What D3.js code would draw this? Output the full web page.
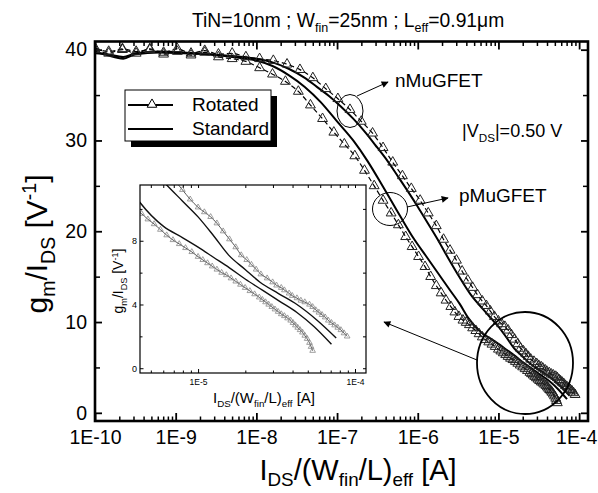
<!DOCTYPE html>
<html>
<head>
<meta charset="utf-8">
<title>gm/IDS vs IDS/(Wfin/L)eff</title>
<script src="https://cdn.jsdelivr.net/npm/d3@7"></script>
<style>
  body { margin: 0; background: #fff; }
  text { font-family: "Liberation Sans", Arial, sans-serif; fill: #000; }
</style>
</head>
<body>
<script>
// x values are log10 of IDS/(Wfin/L)eff [A], y values are gm/IDS [V^-1]
var nRotated = [[-10.00,40.0],[-9.83,39.6],[-9.66,40.1],[-9.49,39.8],[-9.32,40.0],[-9.15,39.7],[-8.98,40.1],[-8.81,39.6],[-8.64,39.9],[-8.47,39.5],[-8.30,39.6],[-8.13,39.2],[-7.96,39.0],[-7.79,38.8],[-7.62,38.4],[-7.46,37.8],[-7.30,36.9],[-7.14,35.7],[-6.99,34.6],[-6.84,33.4],[-6.70,32.1],[-6.56,30.8],[-6.43,29.2],[-6.31,27.6],[-6.19,26.1],[-6.08,24.7],[-5.97,23.4],[-5.87,22.0],[-5.77,20.6],[-5.68,19.1],[-5.60,17.9],[-5.52,16.8],[-5.45,15.6],[-5.38,14.6],[-5.32,13.8],[-5.26,13.0],[-5.20,12.3],[-5.15,11.8],[-5.10,11.2],[-5.05,10.6],[-5.00,10.1],[-4.96,9.8],[-4.92,9.5],[-4.88,9.1],[-4.84,8.6],[-4.80,8.1],[-4.76,7.6],[-4.725,7.1],[-4.69,6.8],[-4.66,6.5],[-4.63,6.2],[-4.60,5.9],[-4.56,5.65],[-4.525,5.4],[-4.50,5.2],[-4.47,5.05],[-4.45,4.9],[-4.42,4.7],[-4.40,4.55],[-4.37,4.4],[-4.345,4.25],[-4.32,4.15],[-4.29,4.0],[-4.27,3.85],[-4.25,3.65],[-4.23,3.5],[-4.21,3.35],[-4.19,3.2],[-4.17,3.0],[-4.15,2.85],[-4.13,2.7],[-4.11,2.55],[-4.09,2.4],[-4.07,2.2],[-4.05,2.0]];

var nStandard = [[-10.00,39.6],[-9.85,39.5],[-9.65,39.2],[-9.50,39.6],[-9.20,39.8],[-8.90,39.7],[-8.60,39.5],[-8.30,39.3],[-8.00,39.0],[-7.80,38.6],[-7.60,37.9],[-7.40,36.9],[-7.25,35.9],[-7.10,34.9],[-6.96,33.8],[-6.80,32.4],[-6.65,30.9],[-6.50,29.2],[-6.38,27.8],[-6.25,26.1],[-6.13,24.5],[-6.00,22.7],[-5.89,21.1],[-5.76,19.2],[-5.62,17.0],[-5.48,14.9],[-5.35,13.1],[-5.20,11.5],[-5.10,10.5],[-5.00,9.5],[-4.90,8.3],[-4.805,7.1],[-4.70,6.2],[-4.605,5.4],[-4.49,4.7],[-4.37,4.0],[-4.24,3.0],[-4.12,1.9]];

var pRotated = [[-10.00,40.2],[-9.83,39.8],[-9.66,40.0],[-9.49,39.6],[-9.32,40.1],[-9.15,39.5],[-8.98,39.8],[-8.81,39.4],[-8.64,39.7],[-8.47,39.2],[-8.30,39.0],[-8.13,38.7],[-7.96,38.0],[-7.80,37.3],[-7.64,36.5],[-7.48,35.4],[-7.33,33.9],[-7.18,32.4],[-7.04,30.9],[-6.91,29.6],[-6.78,28.3],[-6.66,26.7],[-6.54,25.0],[-6.43,23.4],[-6.33,22.0],[-6.24,20.7],[-6.15,19.4],[-6.07,18.3],[-5.99,17.2],[-5.91,16.1],[-5.84,15.0],[-5.77,14.0],[-5.71,13.2],[-5.65,12.4],[-5.59,11.7],[-5.54,11.1],[-5.49,10.6],[-5.44,10.2],[-5.40,9.95],[-5.36,9.7],[-5.32,9.35],[-5.28,9.05],[-5.24,8.7],[-5.20,8.35],[-5.16,8.05],[-5.12,7.8],[-5.08,7.55],[-5.04,7.3],[-5.00,7.0],[-4.97,6.8],[-4.94,6.6],[-4.91,6.4],[-4.88,6.2],[-4.85,6.0],[-4.82,5.85],[-4.79,5.65],[-4.76,5.45],[-4.73,5.25],[-4.70,5.05],[-4.67,4.85],[-4.64,4.65],[-4.61,4.45],[-4.59,4.3],[-4.57,4.15],[-4.55,4.0],[-4.53,3.85],[-4.51,3.7],[-4.49,3.55],[-4.47,3.4],[-4.45,3.28],[-4.43,3.14],[-4.41,3.0],[-4.395,2.85],[-4.38,2.7],[-4.365,2.55],[-4.35,2.4],[-4.335,2.25],[-4.32,2.05],[-4.305,1.85],[-4.29,1.6],[-4.28,1.35],[-4.27,1.1]];

var pStandard = [[-10.00,39.8],[-9.85,39.4],[-9.65,39.0],[-9.50,39.5],[-9.20,39.7],[-8.90,39.6],[-8.60,39.5],[-8.30,39.2],[-8.00,38.8],[-7.80,38.2],[-7.60,37.2],[-7.40,35.9],[-7.20,34.2],[-7.00,32.1],[-6.80,30.0],[-6.62,27.7],[-6.43,24.9],[-6.22,21.7],[-6.05,19.2],[-5.90,17.3],[-5.75,15.4],[-5.60,13.5],[-5.48,12.0],[-5.37,10.4],[-5.22,8.9],[-5.10,8.2],[-5.00,7.6],[-4.90,6.95],[-4.80,6.3],[-4.70,5.6],[-4.59,4.9],[-4.48,4.2],[-4.37,3.5],[-4.26,2.6],[-4.15,1.5]];

var xTickValues = [1e-10, 1e-9, 1e-8, 1e-7, 1e-6, 1e-5, 1e-4];
var xTickLabels = ['1E-10', '1E-9', '1E-8', '1E-7', '1E-6', '1E-5', '1E-4'];
var yTickValues = [0, 10, 20, 30, 40];
var yMinorValues = [5, 15, 25, 35];
var insetXTicks = [1e-5, 1e-4];
var insetXLabels = ['1E-5', '1E-4'];
var insetYTicks = [0, 4, 8];
var insetYMinor = [2, 6, 10];

function toPts(arr) {
    return arr.map(function (d) { return { I: Math.pow(10, d[0]), g: d[1] }; });
}
var series = {
    nRot: toPts(nRotated), nStd: toPts(nStandard),
    pRot: toPts(pRotated), pStd: toPts(pStandard)
};

function minorTicks(lo, hi) {
    var out = [];
    for (var e = lo; e < hi; e++) {
        for (var m = 2; m <= 9; m++) out.push(m * Math.pow(10, e));
    }
    return out;
}

var width = 598, height = 493;
var svg = d3.select('body').append('svg').attr('width', width).attr('height', height);

var defs = svg.append('defs');
defs.append('marker').attr('id', 'arrow').attr('viewBox', '0 0 10 10')
    .attr('refX', 9).attr('refY', 5).attr('markerWidth', 11).attr('markerHeight', 7)
    .attr('markerUnits', 'userSpaceOnUse').attr('orient', 'auto')
    .append('path').attr('d', 'M0,0 L10,5 L0,10 Z').attr('fill', '#000');

// ---------- main plot ----------
var L = 95, R = 588, T = 41.5, B = 421;
var x = d3.scaleLog().domain([1e-10, Math.pow(10, -3.89)]).range([L, R]);
var y = d3.scaleLinear().domain([-0.9, 40.9]).range([B, T]);

defs.append('clipPath').attr('id', 'mainClip').append('rect')
    .attr('x', L).attr('y', T - 6).attr('width', R - L).attr('height', B - T + 6);

function styleAxis(g, w) {
    g.select('.domain').remove();
    g.selectAll('.tick line').attr('stroke', '#000').attr('stroke-width', w);
}

var majorX = xTickValues;
var minorX = minorTicks(-10, -3).filter(function (v) { return v < x.domain()[1]; });

// bottom
var bottomAxis = svg.append('g').attr('transform', 'translate(0,' + B + ')')
    .call(d3.axisBottom(x).tickValues(majorX).tickSize(-8).tickPadding(9)
        .tickFormat(function (d, i) { return xTickLabels[i]; }))
    .call(styleAxis, 1.8);
bottomAxis.selectAll('text').attr('font-size', '19.5px').attr('font-family', '"Liberation Sans", Arial, sans-serif');
// keep the last label inside the picture
bottomAxis.selectAll('.tick:last-of-type text').attr('dx', '-3');
svg.append('g').attr('transform', 'translate(0,' + B + ')')
    .call(d3.axisBottom(x).tickValues(minorX).tickSize(-4.5).tickFormat(''))
    .call(styleAxis, 1.5);
// top
svg.append('g').attr('transform', 'translate(0,' + T + ')')
    .call(d3.axisTop(x).tickValues(majorX).tickSize(-8).tickFormat(''))
    .call(styleAxis, 1.8);
svg.append('g').attr('transform', 'translate(0,' + T + ')')
    .call(d3.axisTop(x).tickValues(minorX).tickSize(-4.5).tickFormat(''))
    .call(styleAxis, 1.5);
// left
svg.append('g').attr('transform', 'translate(' + L + ',0)')
    .call(d3.axisLeft(y).tickValues(yTickValues).tickSize(-7).tickPadding(8))
    .call(styleAxis, 1.8)
    .selectAll('text').attr('font-size', '19.5px').attr('font-family', '"Liberation Sans", Arial, sans-serif');
svg.append('g').attr('transform', 'translate(' + L + ',0)')
    .call(d3.axisLeft(y).tickValues(yMinorValues).tickSize(-5).tickFormat(''))
    .call(styleAxis, 1.5);
// right
svg.append('g').attr('transform', 'translate(' + R + ',0)')
    .call(d3.axisRight(y).tickValues(yTickValues).tickSize(-7).tickFormat(''))
    .call(styleAxis, 1.8);
svg.append('g').attr('transform', 'translate(' + R + ',0)')
    .call(d3.axisRight(y).tickValues(yMinorValues).tickSize(-5).tickFormat(''))
    .call(styleAxis, 1.5);

var mainLine = d3.line().x(function (d) { return x(d.I); }).y(function (d) { return y(d.g); })
    .curve(d3.curveMonotoneX);
var tri = d3.symbol().type(d3.symbolTriangle);

var plot = svg.append('g').attr('clip-path', 'url(#mainClip)');
['nRot', 'pRot'].forEach(function (k) {
    plot.append('path').attr('d', mainLine(series[k])).attr('fill', 'none')
        .attr('stroke', '#000').attr('stroke-width', 1.2).attr('stroke-dasharray', '5,3');
});
['nStd', 'pStd'].forEach(function (k) {
    plot.append('path').attr('d', mainLine(series[k])).attr('fill', 'none')
        .attr('stroke', '#000').attr('stroke-width', 2);
});
['nRot', 'pRot'].forEach(function (k) {
    plot.selectAll(null).data(series[k]).enter().append('path')
        .attr('d', tri.size(42)())
        .attr('transform', function (d) { return 'translate(' + x(d.I) + ',' + y(d.g) + ')'; })
        .attr('fill', 'none').attr('stroke', '#222').attr('stroke-width', 1);
});

// frame
svg.append('rect').attr('x', L).attr('y', T).attr('width', R - L).attr('height', B - T)
    .attr('fill', 'none').attr('stroke', '#000').attr('stroke-width', 2.6);

// ---------- inset ----------
var iL = 140, iR = 366, iT = 185, iB = 373;
var x2 = d3.scaleLog().domain([Math.pow(10, -5.37), Math.pow(10, -3.93)]).range([iL, iR]);
var y2 = d3.scaleLinear().domain([-0.3, 11.5]).range([iB, iT]);

svg.append('rect').attr('x', iL).attr('y', iT).attr('width', iR - iL).attr('height', iB - iT)
    .attr('fill', '#fff');
defs.append('clipPath').attr('id', 'insetClip').append('rect')
    .attr('x', iL).attr('y', iT).attr('width', iR - iL).attr('height', iB - iT);

var insetMinorX = minorTicks(-6, -3).filter(function (v) { return v > x2.domain()[0] && v < x2.domain()[1]; });
var insetYAll = insetYTicks.concat(insetYMinor);

svg.append('g').attr('transform', 'translate(0,' + iB + ')')
    .call(d3.axisBottom(x2).tickValues(insetXTicks).tickSize(-4).tickPadding(6)
        .tickFormat(function (d, i) { return insetXLabels[i]; }))
    .call(styleAxis, 1)
    .selectAll('text').attr('font-size', '8.5px').attr('font-family', '"Liberation Sans", Arial, sans-serif');
svg.append('g').attr('transform', 'translate(0,' + iB + ')')
    .call(d3.axisBottom(x2).tickValues(insetMinorX).tickSize(-2.5).tickFormat(''))
    .call(styleAxis, 1);
svg.append('g').attr('transform', 'translate(0,' + iT + ')')
    .call(d3.axisTop(x2).tickValues(insetXTicks.concat(insetMinorX)).tickSize(-3).tickFormat(''))
    .call(styleAxis, 1);
svg.append('g').attr('transform', 'translate(' + iL + ',0)')
    .call(d3.axisLeft(y2).tickValues(insetYTicks).tickSize(-3.5).tickPadding(3))
    .call(styleAxis, 1)
    .selectAll('text').attr('font-size', '9px').attr('font-family', '"Liberation Sans", Arial, sans-serif');
svg.append('g').attr('transform', 'translate(' + iL + ',0)')
    .call(d3.axisLeft(y2).tickValues(insetYMinor).tickSize(-2.5).tickFormat(''))
    .call(styleAxis, 1);
svg.append('g').attr('transform', 'translate(' + iR + ',0)')
    .call(d3.axisRight(y2).tickValues(insetYAll).tickSize(-3).tickFormat(''))
    .call(styleAxis, 1);

var insetLine = d3.line().x(function (d) { return x2(d.I); }).y(function (d) { return y2(d.g); })
    .curve(d3.curveMonotoneX);
var inset = svg.append('g').attr('clip-path', 'url(#insetClip)');
['nRot', 'pRot'].forEach(function (k) {
    inset.append('path').attr('d', insetLine(series[k])).attr('fill', 'none')
        .attr('stroke', '#444').attr('stroke-width', 0.9);
    inset.selectAll(null).data(series[k]).enter().append('path')
        .attr('d', tri.size(14)())
        .attr('transform', function (d) { return 'translate(' + x2(d.I) + ',' + y2(d.g) + ')'; })
        .attr('fill', 'none').attr('stroke', '#888').attr('stroke-width', 0.8);
});
['nStd', 'pStd'].forEach(function (k) {
    inset.append('path').attr('d', insetLine(series[k])).attr('fill', 'none')
        .attr('stroke', '#111').attr('stroke-width', 1.4);
});
svg.append('rect').attr('x', iL).attr('y', iT).attr('width', iR - iL).attr('height', iB - iT)
    .attr('fill', 'none').attr('stroke', '#000').attr('stroke-width', 1.2);

// ---------- text with sub/superscripts ----------
function richText(parent, parts, size, subShift) {
    var t = parent.append('text').attr('font-size', size + 'px');
    var shift = 0;
    var down = subShift || 0.27;
    parts.forEach(function (p) {
        var target = p.sub ? size * down : (p.sup ? -size * 0.38 : 0);
        var ts = t.append('tspan').text(p.t).attr('dy', target - shift);
        if (p.sub || p.sup) ts.attr('font-size', (size * 0.65) + 'px');
        shift = target;
    });
    return t;
}

richText(svg, [{ t: 'TiN=10nm ; W' }, { t: 'fin', sub: 1 }, { t: '=25nm ; L' }, { t: 'eff', sub: 1 },
    { t: '=0.91\u03bcm' }], 19.3).attr('x', 192).attr('y', 27);

richText(svg, [{ t: 'I' }, { t: 'DS', sub: 1 }, { t: '/(W' }, { t: 'fin', sub: 1 }, { t: '/L)' },
    { t: 'eff', sub: 1 }, { t: ' [A]' }], 29, 0.22)
    .attr('x', 358).attr('y', 480).attr('text-anchor', 'middle');

richText(svg, [{ t: 'g' }, { t: 'm', sub: 1 }, { t: '/I' }, { t: 'DS', sub: 1 }, { t: ' [V' },
    { t: '-1', sup: 1 }, { t: ']' }], 30)
    .attr('text-anchor', 'middle').attr('transform', 'translate(47,244) rotate(-90)');

richText(svg, [{ t: 'I' }, { t: 'DS', sub: 1 }, { t: '/(W' }, { t: 'fin', sub: 1 }, { t: '/L)' },
    { t: 'eff', sub: 1 }, { t: ' [A]' }], 15)
    .attr('x', 264).attr('y', 403).attr('text-anchor', 'middle');

richText(svg, [{ t: 'g' }, { t: 'm', sub: 1 }, { t: '/I' }, { t: 'DS', sub: 1 }, { t: ' [V' },
    { t: '-1', sup: 1 }, { t: ']' }], 14)
    .attr('text-anchor', 'middle').attr('transform', 'translate(123,281) rotate(-90)');

richText(svg, [{ t: '|V' }, { t: 'DS', sub: 1 }, { t: '|=0.50 V' }], 18).attr('x', 462).attr('y', 137);

svg.append('text').attr('x', 395).attr('y', 87).attr('font-size', '19px').text('nMuGFET');
svg.append('text').attr('x', 459).attr('y', 202).attr('font-size', '19px').text('pMuGFET');

// ---------- annotations ----------
svg.append('ellipse').attr('cx', 350).attr('cy', 111).attr('rx', 13).attr('ry', 16.5)
    .attr('fill', 'none').attr('stroke', '#000').attr('stroke-width', 1);
svg.append('ellipse').attr('cx', 390).attr('cy', 209).attr('rx', 17.5).attr('ry', 16.5)
    .attr('fill', 'none').attr('stroke', '#000').attr('stroke-width', 1);
svg.append('ellipse').attr('cx', 525).attr('cy', 363).attr('rx', 48).attr('ry', 51)
    .attr('fill', 'none').attr('stroke', '#000').attr('stroke-width', 1.8);

svg.append('line').attr('x1', 357).attr('y1', 96).attr('x2', 388).attr('y2', 82)
    .attr('stroke', '#000').attr('stroke-width', 1).attr('marker-end', 'url(#arrow)');
svg.append('line').attr('x1', 407).attr('y1', 207).attr('x2', 448).attr('y2', 198)
    .attr('stroke', '#000').attr('stroke-width', 1).attr('marker-end', 'url(#arrow)');
svg.append('line').attr('x1', 477).attr('y1', 360).attr('x2', 384).attr('y2', 322)
    .attr('stroke', '#000').attr('stroke-width', 1).attr('marker-end', 'url(#arrow)');

// ---------- legend ----------
var lg = svg.append('g');
lg.append('rect').attr('x', 131).attr('y', 96).attr('width', 146).attr('height', 51).attr('fill', '#000');
lg.append('rect').attr('x', 125).attr('y', 90).attr('width', 146).attr('height', 51)
    .attr('fill', '#fff').attr('stroke', '#000').attr('stroke-width', 1);
lg.append('line').attr('x1', 128).attr('y1', 105).attr('x2', 173).attr('y2', 105)
    .attr('stroke', '#000').attr('stroke-width', 1.8);
lg.append('path').attr('d', tri.size(40)()).attr('transform', 'translate(152,104.5)')
    .attr('fill', '#fff').attr('stroke', '#000').attr('stroke-width', 1);
lg.append('text').attr('x', 192).attr('y', 111).attr('font-size', '19px').text('Rotated');
lg.append('line').attr('x1', 128).attr('y1', 129).attr('x2', 173).attr('y2', 129)
    .attr('stroke', '#000').attr('stroke-width', 2);
lg.append('text').attr('x', 192).attr('y', 135).attr('font-size', '19px').text('Standard');
</script>
</body>
</html>
